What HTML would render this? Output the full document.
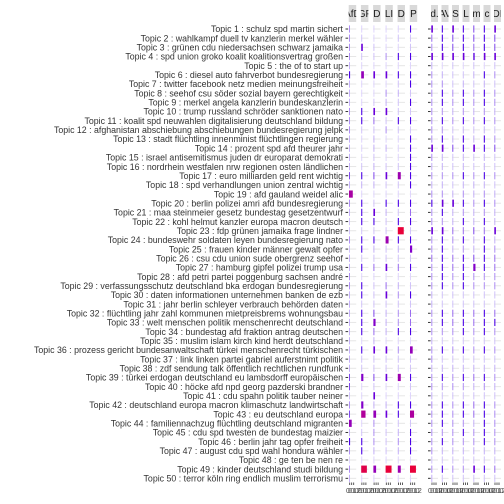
<!DOCTYPE html>
<html><head><meta charset="utf-8">
<style>
html,body{margin:0;padding:0;background:#fff;}
body{width:504px;height:504px;overflow:hidden;position:relative;font-family:"Liberation Sans",sans-serif;}
svg{position:absolute;left:0;top:0;}
</style></head>
<body>
<svg id="chart" width="504" height="504" viewBox="0 0 504 504"></svg>
<script>
const topics = [
"Topic 1 : schulz spd martin sichert","Topic 2 : wahlkampf duell tv kanzlerin merkel wähler","Topic 3 : grünen cdu niedersachsen schwarz jamaika","Topic 4 : spd union groko koalit koalitionsvertrag großen","Topic 5 : the of to start up","Topic 6 : diesel auto fahrverbot bundesregierung","Topic 7 : twitter facebook netz medien meinungsfreiheit","Topic 8 : seehof csu söder sozial bayern gerechtigkeit","Topic 9 : merkel angela kanzlerin bundeskanzlerin","Topic 10 : trump russland schröder sanktionen nato","Topic 11 : koalit spd neuwahlen digitalisierung deutschland bildung","Topic 12 : afghanistan abschiebung abschiebungen bundesregierung jelpk","Topic 13 : stadt flüchtling innenminist flüchtlingen regierung","Topic 14 : prozent spd afd theurer jahr","Topic 15 : israel antisemitismus juden dr europarat demokrati","Topic 16 : nordrhein westfalen nrw regionen osten ländlichen","Topic 17 : euro milliarden geld rent wichtig","Topic 18 : spd verhandlungen union zentral wichtig","Topic 19 : afd gauland weidel alic","Topic 20 : berlin polizei amri afd bundesregierung","Topic 21 : maa steinmeier gesetz bundestag gesetzentwurf","Topic 22 : kohl helmut kanzler europa macron deutsch","Topic 23 : fdp grünen jamaika frage lindner","Topic 24 : bundeswehr soldaten leyen bundesregierung nato","Topic 25 : frauen kinder männer gewalt opfer","Topic 26 : csu cdu union sude obergrenz seehof","Topic 27 : hamburg gipfel polizei trump usa","Topic 28 : afd petri partei poggenburg sachsen andré","Topic 29 : verfassungsschutz deutschland bka erdogan bundesregierung","Topic 30 : daten informationen unternehmen banken de ezb","Topic 31 : jahr berlin schleyer verbrauch behörden daten","Topic 32 : flüchtling jahr zahl kommunen mietpreisbrems wohnungsbau","Topic 33 : welt menschen politik menschenrecht deutschland","Topic 34 : bundestag afd fraktion antrag deutschen","Topic 35 : muslim islam kirch kind herdt deutschland","Topic 36 : prozess gericht bundesanwaltschaft türkei menschenrecht türkischen","Topic 37 : link linken partei gabriel auferstnimt politik","Topic 38 : zdf sendung talk öffentlich rechtlichen rundfunk","Topic 39 : türkei erdogan deutschland eu lambsdorff europäischen","Topic 40 : höcke afd npd georg pazderski brandner","Topic 41 : cdu spahn politik tauber neiner","Topic 42 : deutschland europa macron klimaschutz landwirtschaft","Topic 43 : eu deutschland europa","Topic 44 : familiennachzug flüchtling deutschland migranten","Topic 45 : cdu spd twesten de bundestag maizier","Topic 46 : berlin jahr tag opfer freiheit","Topic 47 : august cdu spd wahl hondura wähler","Topic 48 : ge ten be nen re","Topic 49 : kinder deutschland studi bildung","Topic 50 : terror köln ring endlich muslim terrorismu"];
const leftPanels = ["AfD","GF","D","LI","D","P"];
const rightPanels = ["d.","AV","S","L","m","c","DI"];
const leftValues = [
[0.04,0.01,0.01,0.01,0.01,0.08],[0.04,0.02,0.01,0.01,0.02,0.02],[0.04,0.10,0.02,0.01,0.01,0.02],[0.04,0.02,0.02,0.04,0.08,0.08],[0.03,0.01,0.01,0.01,0.01,0.01],
[0.08,0.14,0.10,0.10,0.08,0.08],[0.03,0.01,0.01,0.01,0.02,0.08],[0.03,0.01,0.01,0.04,0.03,0.02],[0.03,0.01,0.02,0.03,0.02,0.08],[0.04,0.08,0.10,0.10,0.02,0.02],
[0.04,0.08,0.05,0.02,0.08,0.08],[0.04,0.02,0.02,0.04,0.02,0.02],[0.03,0.01,0.03,0.01,0.01,0.08],[0.03,0.01,0.03,0.03,0.01,0.08],[0.03,0.01,0.02,0.01,0.01,0.08],
[0.03,0.02,0.03,0.02,0.02,0.08],[0.06,0.08,0.06,0.10,0.15,0.08],[0.03,0.03,0.03,0.02,0.02,0.08],[0.18,0.01,0.01,0.01,0.01,0.01],[0.04,0.08,0.02,0.08,0.08,0.08],
[0.03,0.08,0.10,0.03,0.02,0.05],[0.02,0.08,0.08,0.02,0.08,0.08],[0.02,0.02,0.02,0.02,0.26,0.02],[0.04,0.08,0.08,0.15,0.08,0.08],[0.02,0.08,0.03,0.02,0.03,0.12],
[0.03,0.02,0.02,0.02,0.02,0.02],[0.03,0.08,0.05,0.10,0.05,0.08],[0.04,0.01,0.01,0.01,0.01,0.01],[0.04,0.08,0.02,0.05,0.03,0.02],[0.03,0.08,0.02,0.10,0.04,0.08],
[0.03,0.02,0.02,0.02,0.02,0.02],[0.03,0.08,0.06,0.03,0.04,0.05],[0.03,0.08,0.12,0.03,0.04,0.05],[0.03,0.08,0.05,0.03,0.08,0.08],[0.03,0.01,0.03,0.01,0.01,0.01],
[0.03,0.08,0.10,0.10,0.04,0.14],[0.03,0.02,0.02,0.02,0.02,0.02],[0.03,0.02,0.02,0.02,0.02,0.02],[0.06,0.12,0.06,0.10,0.15,0.08],[0.06,0.01,0.02,0.01,0.01,0.02],
[0.02,0.01,0.10,0.01,0.01,0.01],[0.04,0.12,0.03,0.03,0.08,0.08],[0.06,0.20,0.14,0.10,0.08,0.19],[0.14,0.01,0.04,0.02,0.02,0.02],[0.03,0.02,0.04,0.02,0.03,0.08],
[0.08,0.08,0.04,0.02,0.04,0.08],[0.04,0.08,0.03,0.02,0.03,0.08],[0.01,0.01,0.01,0.01,0.01,0.01],[0.04,0.25,0.14,0.26,0.15,0.26],[0.03,0.01,0.01,0.01,0.01,0.01]];
const rightValues = [
[0.10,0.08,0.10,0.08,0.06,0.08,0.10],[0.05,0.08,0.06,0.08,0.06,0.08,0.06],[0.04,0.08,0.06,0.08,0.05,0.08,0.06],[0.10,0.10,0.10,0.10,0.09,0.10,0.10],[0.03,0.01,0.02,0.01,0.02,0.01,0.02],
[0.04,0.03,0.02,0.02,0.03,0.08,0.04],[0.04,0.04,0.02,0.03,0.02,0.03,0.02],[0.04,0.08,0.04,0.08,0.04,0.08,0.04],[0.04,0.08,0.04,0.08,0.04,0.08,0.04],[0.04,0.04,0.03,0.04,0.03,0.04,0.03],
[0.04,0.08,0.04,0.08,0.04,0.08,0.04],[0.04,0.04,0.02,0.03,0.02,0.03,0.02],[0.04,0.08,0.03,0.08,0.03,0.08,0.04],[0.10,0.10,0.06,0.08,0.10,0.08,0.06],[0.04,0.03,0.02,0.03,0.02,0.03,0.02],
[0.03,0.03,0.02,0.03,0.02,0.03,0.02],[0.04,0.04,0.04,0.08,0.04,0.08,0.04],[0.03,0.03,0.02,0.03,0.03,0.03,0.02],[0.04,0.04,0.03,0.04,0.03,0.04,0.03],[0.08,0.10,0.10,0.08,0.04,0.08,0.04],
[0.04,0.08,0.03,0.04,0.03,0.04,0.03],[0.04,0.04,0.03,0.08,0.03,0.08,0.03],[0.10,0.10,0.05,0.05,0.06,0.05,0.10],[0.04,0.08,0.04,0.08,0.03,0.08,0.03],[0.04,0.08,0.03,0.04,0.03,0.08,0.04],
[0.05,0.08,0.05,0.08,0.06,0.08,0.05],[0.04,0.08,0.05,0.08,0.12,0.08,0.05],[0.04,0.08,0.04,0.08,0.04,0.04,0.04],[0.04,0.08,0.04,0.08,0.04,0.04,0.04],[0.03,0.02,0.02,0.02,0.02,0.02,0.02],
[0.03,0.02,0.02,0.02,0.02,0.02,0.02],[0.04,0.08,0.05,0.08,0.05,0.08,0.05],[0.04,0.08,0.05,0.08,0.05,0.08,0.08],[0.04,0.04,0.04,0.08,0.04,0.08,0.04],[0.03,0.02,0.02,0.02,0.02,0.02,0.02],
[0.04,0.08,0.04,0.08,0.04,0.08,0.04],[0.04,0.02,0.02,0.02,0.02,0.02,0.02],[0.03,0.03,0.03,0.03,0.03,0.03,0.03],[0.04,0.08,0.04,0.08,0.05,0.08,0.04],[0.04,0.04,0.04,0.04,0.03,0.04,0.03],
[0.03,0.02,0.02,0.02,0.02,0.02,0.02],[0.04,0.08,0.04,0.08,0.05,0.08,0.04],[0.04,0.08,0.04,0.08,0.05,0.08,0.04],[0.04,0.08,0.04,0.04,0.03,0.08,0.04],[0.04,0.04,0.04,0.08,0.04,0.08,0.04],
[0.04,0.08,0.04,0.04,0.04,0.08,0.04],[0.04,0.03,0.03,0.03,0.03,0.03,0.03],[0.02,0.02,0.02,0.02,0.02,0.02,0.02],[0.04,0.08,0.04,0.04,0.10,0.08,0.05],[0.03,0.02,0.02,0.02,0.02,0.02,0.02]];
const tickLabel = "0.00.10.2";

const svg = document.getElementById('chart');
const NS = 'http://www.w3.org/2000/svg';
function mk(tag, attrs){ const e=document.createElementNS(NS,tag); for(const k in attrs) e.setAttribute(k,attrs[k]); svg.appendChild(e); return e; }
function yPos(i){ return 29 + i*9.17; }
function xWidth(v){ return Math.max(1, (v-0.04)*27); }
const stops=[[0,[236,232,255]],[0.03,[196,176,248]],[0.05,[154,108,240]],[0.08,[75,0,232]],[0.11,[122,0,212]],[0.15,[156,0,176]],[0.2,[176,0,154]],[0.26,[232,0,58]]];
function color(v){
  if(v<=stops[0][0]) return 'rgb('+stops[0][1]+')';
  for(let i=1;i<stops.length;i++){ if(v<=stops[i][0]){ const a=stops[i-1],b=stops[i],t=(v-a[0])/(b[0]-a[0]); return 'rgb('+a[1].map((c,j)=>Math.round(c+(b[1][j]-c)*t)).join(',')+')'; } }
  return 'rgb('+stops[stops.length-1][1]+')';
}

// y labels
topics.forEach((t,i)=>{
  const tx=mk('text',{x:343,y:yPos(i)+3.2,'text-anchor':'end','font-size':'8.8',fill:'#333'});
  tx.textContent=t;
  
  
});

function drawGroup(panels, values, x0, step, w, tickX, groupName){
  topics.forEach((t,i)=>{
    const tk=mk('line',{x1:tickX,x2:tickX+2.6,y1:yPos(i),y2:yPos(i),stroke:'#333','stroke-width':1});
    
    
  });
  panels.forEach((p,j)=>{
    const px=x0+j*step;
    const strip=mk('rect',{x:px,y:5,width:w,height:17,fill:'#d9d9d9'});
    
    
    const cid=groupName+'c'+j;
    const cp=document.createElementNS(NS,'clipPath'); cp.setAttribute('id',cid);
    const cr=document.createElementNS(NS,'rect'); cr.setAttribute('x',px); cr.setAttribute('y',5); cr.setAttribute('width',w); cr.setAttribute('height',17);
    cp.appendChild(cr); svg.appendChild(cp);
    const st=mk('text',{x:px+w/2,y:17,'text-anchor':'middle','font-size':'10',fill:'#1a1a1a','clip-path':'url(#'+cid+')'});
    st.textContent=p;
    
    
    values.forEach((row,i)=>{
      const g=mk('line',{x1:px,x2:px+w,y1:yPos(i),y2:yPos(i),stroke:'#e6e6e6','stroke-width':1});
      
      
      const v=row[j];
      const b=mk('rect',{x:px+0.3,y:yPos(i)-3.6,width:xWidth(v),height:7.2,fill:color(v)});
      
      
    });
    [1,3,5].forEach(o=>{
      const xt=mk('line',{x1:px+o,x2:px+o,y1:482.5,y2:485,stroke:'#333','stroke-width':0.8});
      
      
    });
    const xl=mk('text',{x:px+w/2,y:493,'text-anchor':'middle','font-size':'7',fill:'#4d4d4d','letter-spacing':'-1.8'});
    xl.textContent=tickLabel;
    
    
  });
}
drawGroup(leftPanels, leftValues, 348.7, 12.2, 7.5, 345.5, 'L');
drawGroup(rightPanels, rightValues, 431, 10.5, 7, 428, 'R');
</script>
</body></html>
